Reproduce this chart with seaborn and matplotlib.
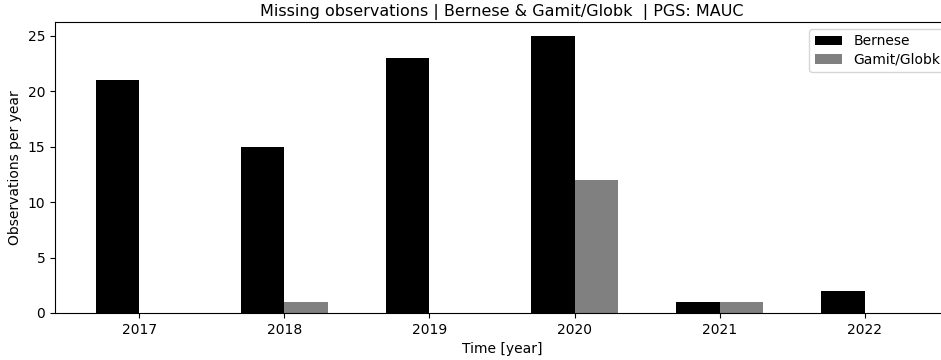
import matplotlib
matplotlib.use("Agg")
import matplotlib.pyplot as plt
import pandas as pd
import seaborn as sns

years = ["2017", "2018", "2019", "2020", "2021", "2022"]
bernese = [21, 15, 23, 25, 1, 2]
gamit = [0, 1, 0, 12, 1, 0]
series = ["Bernese", "Gamit/Globk"]

df = pd.DataFrame({
    "year": years * 2,
    "count": bernese + gamit,
    "software": [series[0]] * len(years) + [series[1]] * len(years),
})

fig = plt.figure(figsize=(9.41, 3.6), dpi=100)
ax = fig.add_axes([0.0584, 0.1306, 0.9501, 0.8084])

sns.barplot(data=df, x="year", y="count", hue="software", order=years,
            hue_order=series, palette=["black", "gray"], width=0.6,
            saturation=1, ax=ax, linewidth=0, edgecolor="none")

ax.set_xlim(-0.58, 5.58)
ax.set_ylim(0, 26.25)
ax.set_xlabel("Time [year]")
ax.set_ylabel("Observations per year")
ax.set_title("Missing observations | Bernese & Gamit/Globk  | PGS: MAUC",
             fontsize=11.5, pad=4)
ax.legend(loc="upper right", fontsize=10, labelspacing=0.3,
          bbox_to_anchor=(1.0045, 1.0))

fig.savefig("out.png", dpi=100)
